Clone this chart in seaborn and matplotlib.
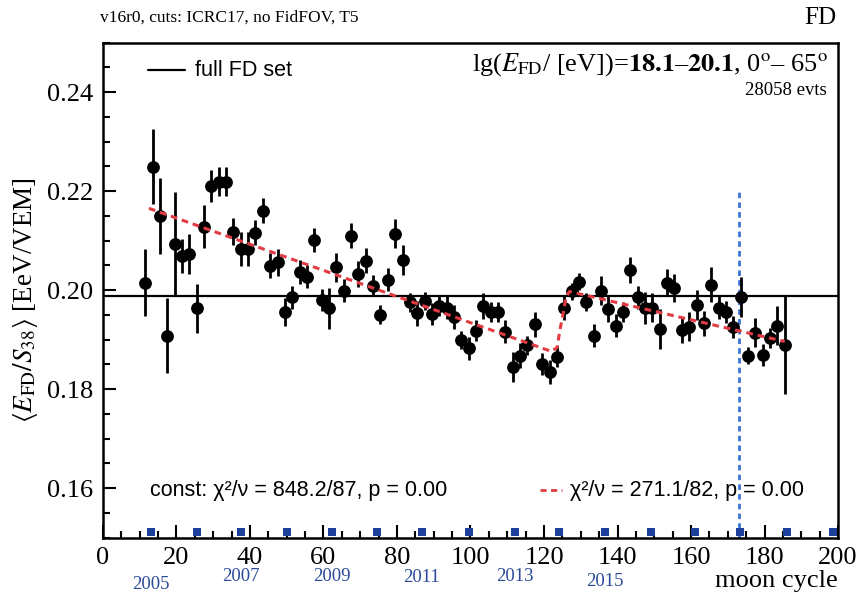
import numpy as np
import pandas as pd
import seaborn as sns
import matplotlib.pyplot as plt
import matplotlib.transforms as mtransforms
from matplotlib.ticker import MultipleLocator

# values
moon_cycle = [11.5, 13.5, 15.5, 17.5, 19.5, 21.5, 23.5, 25.5, 27.5, 29.5,
              31.5, 33.5, 35.5, 37.5, 39.5, 41.5, 43.5, 45.5, 47.5, 49.5,
              51.5, 53.5, 55.5, 57.5, 59.5, 61.5, 63.5, 65.5, 67.5, 69.5,
              71.5, 73.5, 75.5, 77.5, 79.5, 81.5, 83.5, 85.5, 87.5, 89.5,
              91.5, 93.5, 95.5, 97.5, 99.5, 101.5, 103.5, 105.5, 107.5, 109.5,
              111.5, 113.5, 115.5, 117.5, 119.5, 121.5, 123.5, 125.5, 127.5, 129.5,
              131.5, 133.5, 135.5, 137.5, 139.5, 141.5, 143.5, 145.5, 147.5, 149.5,
              151.5, 153.5, 155.5, 157.5, 159.5, 161.5, 163.5, 165.5, 167.5, 169.5,
              171.5, 173.5, 175.5, 177.5, 179.5, 181.5, 183.5, 185.5]
ratio = [0.2015, 0.2249, 0.2150, 0.1908, 0.2093, 0.2069, 0.2073, 0.1963, 0.2128, 0.2210,
         0.2219, 0.2219, 0.2118, 0.2083, 0.2083, 0.2116, 0.2160, 0.2049, 0.2056, 0.1955,
         0.1985, 0.2036, 0.2027, 0.2101, 0.1980, 0.1963, 0.2046, 0.1999, 0.2110, 0.2032,
         0.2059, 0.2009, 0.1950, 0.2021, 0.2114, 0.2061, 0.1975, 0.1953, 0.1977, 0.1952,
         0.1968, 0.1964, 0.1946, 0.1899, 0.1882, 0.1918, 0.1968, 0.1955, 0.1955, 0.1916,
         0.1845, 0.1867, 0.1888, 0.1931, 0.1851, 0.1835, 0.1865, 0.1964, 0.1997, 0.2017,
         0.1976, 0.1908, 0.1999, 0.1962, 0.1928, 0.1956, 0.2041, 0.1985, 0.1963, 0.1964,
         0.1921, 0.2015, 0.2004, 0.1919, 0.1926, 0.1970, 0.1933, 0.2011, 0.1964, 0.1955,
         0.1925, 0.1986, 0.1867, 0.1914, 0.1869, 0.1903, 0.1928, 0.1889]
ratio_err = [0.0067, 0.0076, 0.0077, 0.0076, 0.0105, 0.0034, 0.0041, 0.0049, 0.0044, 0.0033,
             0.0030, 0.0030, 0.0027, 0.0035, 0.0035, 0.0026, 0.0025, 0.0025, 0.0027, 0.0028,
             0.0024, 0.0024, 0.0023, 0.0024, 0.0022, 0.0041, 0.0029, 0.0024, 0.0025, 0.0026,
             0.0025, 0.0022, 0.0019, 0.0023, 0.0029, 0.0030, 0.0019, 0.0025, 0.0018, 0.0022,
             0.0020, 0.0023, 0.0024, 0.0018, 0.0023, 0.0022, 0.0026, 0.0020, 0.0020, 0.0024,
             0.0030, 0.0025, 0.0020, 0.0025, 0.0022, 0.0024, 0.0021, 0.0025, 0.0017, 0.0017,
             0.0018, 0.0024, 0.0029, 0.0027, 0.0023, 0.0020, 0.0026, 0.0024, 0.0032, 0.0029,
             0.0040, 0.0027, 0.0029, 0.0026, 0.0029, 0.0030, 0.0025, 0.0035, 0.0023, 0.0022,
             0.0022, 0.0041, 0.0017, 0.0029, 0.0022, 0.0021, 0.0039, 0.0100]

fit_x = [12.5, 122.0, 123.6, 124.3, 125.2, 126.0, 126.9, 185.5]
fit_y = [0.2165, 0.1876, 0.1884, 0.1918, 0.1952, 0.1985, 0.1997, 0.1896]

mean_ratio = 0.1987
fov_cut = 173.0
fov_cut_top = 0.220

year_marks = [13.0, 25.5, 37.5, 50.0, 62.3, 74.5, 86.8, 99.5,
              112.0, 124.0, 136.5, 149.0, 161.0, 173.3, 186.0, 198.7]
year_labels = ["2005", "2007", "2009", "2011", "2013", "2015"]

df = pd.DataFrame({"cycle": moon_cycle, "ratio": ratio, "err": ratio_err})

sns.set_theme(style="ticks")
plt.rcParams["font.family"] = ["Liberation Serif", "DejaVu Serif"]
plt.rcParams["mathtext.fontset"] = "stix"
plt.rcParams["axes.edgecolor"] = "black"
plt.rcParams["xtick.color"] = "black"
plt.rcParams["ytick.color"] = "black"
plt.rcParams["text.color"] = "black"
plt.rcParams["axes.labelcolor"] = "black"

serif = ["Liberation Serif", "DejaVu Serif"]
sans = ["Liberation Sans", "DejaVu Sans"]
red = "#e23b44"
blue_line = "#3a74d6"
blue_year = "#2b4a9a"

fig = plt.figure(figsize=(8.61, 6.02), dpi=100)
ax = fig.add_axes([0.1196, 0.1071, 0.8537, 0.8223])

ax.axhline(mean_ratio, color="black", lw=1.6, zorder=1)
ax.errorbar(df["cycle"], df["ratio"], yerr=df["err"], fmt="none",
            ecolor="black", elinewidth=2.0, capsize=0, zorder=2)
sns.scatterplot(data=df, x="cycle", y="ratio", color="black", s=85,
                linewidth=0, zorder=3, ax=ax, legend=False)
sns.lineplot(x=fit_x, y=fit_y, color=red, lw=2.2, ax=ax, zorder=4,
             estimator=None, sort=False)
ax.lines[-1].set_dashes([2.2, 1.6])
ax.vlines(fov_cut, 0.15, fov_cut_top, colors=blue_line, lw=2.0,
          linestyles=(0, (2.0, 1.5)), zorder=1)

# yearly markers along the bottom axis
trans = mtransforms.blended_transform_factory(ax.transData, ax.transAxes)
sns.scatterplot(x=year_marks, y=[0.012] * len(year_marks), marker="s", s=30,
                color="#1f3f9c", linewidth=0, ax=ax, transform=trans,
                clip_on=False, zorder=5, legend=False)
year_dy = [-0.094, -0.078, -0.078, -0.081, -0.078, -0.088]
for lab, xv, dy in zip(year_labels, year_marks[::2], year_dy):
    ax.text(xv, dy, lab, transform=trans, ha="center", va="center",
            fontsize=13.5, color=blue_year, family=serif)

ax.set_xlim(0, 200)
ax.set_ylim(0.15, 0.25)
ax.xaxis.set_major_locator(MultipleLocator(20))
ax.xaxis.set_minor_locator(MultipleLocator(5))
ax.yaxis.set_major_locator(MultipleLocator(0.02))
ax.yaxis.set_minor_locator(MultipleLocator(0.005))
ax.set_yticks([0.16, 0.18, 0.20, 0.22, 0.24])
ax.set_yticklabels(["0.16", "0.18", "0.20", "0.22", "0.24"])
ax.tick_params(which="major", direction="in", length=9.5, width=1.5,
               labelsize=19, pad=7, top=False, right=False, color="black")
ax.tick_params(which="minor", direction="in", length=5, width=1.5,
               top=False, right=False, color="black")
for lab in ax.get_xticklabels() + ax.get_yticklabels():
    lab.set_family(serif)
for sp in ax.spines.values():
    sp.set_linewidth(1.8)
    sp.set_color("black")
    sp.set_visible(True)

ax.set_xlabel("moon cycle", fontsize=19, family=serif, ha="right")
ax.xaxis.set_label_coords(1.0, -0.066)
ax.set_ylabel(r"$\langle E_{\rm FD}/S_{38}\rangle$ [EeV/VEM]", fontsize=19.5,
              family=serif)
ax.yaxis.set_label_coords(-0.085, 0.48)

# in-frame annotations
ax.plot([0.061, 0.112], [0.944, 0.944], color="black", lw=1.6,
        transform=ax.transAxes)
ax.text(0.125, 0.944, "full FD set", transform=ax.transAxes, va="center",
        ha="left", fontsize=15.5, family=sans)
ax.text(0.986, 0.955,
        r"lg($E_{\rm FD}$/ [eV])=$\mathbf{18.1}$" + "\u2013" +
        r"$\mathbf{20.1}$, 0$^{\rm o}$" + "\u2013 65" + r"$^{\rm o}$",
        transform=ax.transAxes, ha="right", va="center", fontsize=19,
        family=serif)
ax.text(0.984, 0.904, "28058 evts", transform=ax.transAxes, ha="right",
        va="center", fontsize=13.5, family=serif)
ax.text(0.064, 0.096, "const: \u03c7\u00b2/\u03bd = 848.2/87, p = 0.00",
        transform=ax.transAxes, ha="left", va="center", fontsize=15.5,
        family=sans)
ax.plot([0.595, 0.624], [0.096, 0.096], color=red, lw=2.0, dashes=[2.2, 1.6],
        transform=ax.transAxes)
ax.text(0.635, 0.096, "\u03c7\u00b2/\u03bd = 271.1/82, p = 0.00",
        transform=ax.transAxes, ha="left", va="center", fontsize=15.5,
        family=sans)

fig.text(0.116, 0.970, "v16r0, cuts: ICRC17, no FidFOV, T5", ha="left",
         va="center", fontsize=12.5, family=serif)
fig.text(0.971, 0.970, "FD", ha="right", va="center", fontsize=18,
         family=serif)

fig.savefig("out.png", dpi=100)
